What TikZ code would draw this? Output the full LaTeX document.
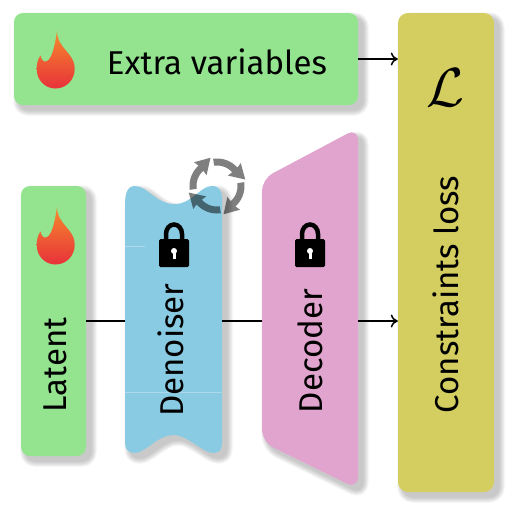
\documentclass[tikz,border=0pt]{standalone}
\usepackage{fontspec}
\setmainfont{Fira Sans}
\usetikzlibrary{arrows.meta}
\definecolor{grn}{HTML}{93E38F}
\definecolor{blu}{HTML}{89CBE2}
\definecolor{pnk}{HTML}{E1A4CE}
\definecolor{ylw}{HTML}{D3CE5F}
\definecolor{flameA}{HTML}{F58A2C}
\definecolor{flameB}{HTML}{E8323A}
\tikzset{
  lbl/.style={font=\fontsize{33}{37}\selectfont,text=black,inner sep=0pt},
  vlbl/.style={lbl,rotate=90},
  link/.style={line width=1.5pt,black},
  arrowlink/.style={link,-{To[length=7pt,width=13pt,line width=1.5pt]}},
  ring/.style={black,opacity=.5},
  seam/.style={white,opacity=.3,line width=.6pt},
}
\newcommand{\softshadow}[1]{%
  \foreach \w in {1,...,12}{\begin{scope}[transparency group,opacity=.02]\filldraw[shift={(5,5)},line width=\w pt,black,line join=round] #1;\end{scope}}}
\newcommand{\flame}[2]{%
  \shade[shift={(#1,#2)},top color=flameA,bottom color=flameB]
   (57,31) .. controls (57,40) and (62,46) .. (68,53)
   .. controls (73,59) and (74.7,63) .. (74.7,69)
   .. controls (74.7,80) and (66,88.5) .. (55.5,88.5)
   .. controls (45,88.5) and (36.7,80) .. (36.7,69)
   .. controls (36.7,63) and (38,59) .. (40.5,55.5)
   .. controls (41,59) and (43,62) .. (46,61.5)
   .. controls (52,60) and (55,45) .. (57,31) -- cycle;}
\newcommand{\padlock}[1]{%
  \begin{scope}[shift={(#1,0)}]
   \draw[line width=4.5pt,black] (-8,241) -- (-8,234) arc[start angle=180,end angle=0,x radius=8,y radius=-9.5] -- (8,241);
   \fill[black,rounded corners=1.5pt] (-15,239) rectangle (15,267);
   \fill[white] (0,251) circle[radius=3];
   \fill[white] (-1.5,251) -- (1.5,251) -- (1.5,259) -- (-1.5,259) -- cycle;
  \end{scope}}
\begin{document}
\begin{tikzpicture}[x=1pt,y=-1pt]
\useasboundingbox (0,0) rectangle (512,512);
% shadows
\softshadow{[rounded corners=9pt] (14,13) rectangle (358,105)}
\softshadow{[rounded corners=9pt] (21,186) rectangle (86,456)}
\softshadow{[rounded corners=10pt] (398,13) rectangle (494,492)}
\softshadow{(125,205) .. controls (125,192) and (128,186) .. (135,186) .. controls (148,186) and (155,204) .. (175,204) .. controls (192,204) and (200,186) .. (212,186) .. controls (219,186) and (222,191) .. (222,198) -- (222,443) .. controls (222,450) and (219,453) .. (213,453) .. controls (203,453) and (188,435) .. (173,435) .. controls (158,435) and (145,453) .. (135,453) .. controls (129,453) and (125,450) .. (125,443) -- cycle}
\softshadow{[rounded corners=12pt] (262,179) -- (358,128) -- (358,489) -- (262,442) -- cycle}
% shapes
\fill[grn,rounded corners=9pt] (14,13) rectangle (358,105);
\fill[grn,rounded corners=9pt] (21,186) rectangle (86,456);
\fill[ylw,rounded corners=10pt] (398,13) rectangle (494,492);
\fill[blu] (125,205) .. controls (125,192) and (128,186) .. (135,186) .. controls (148,186) and (155,204) .. (175,204) .. controls (192,204) and (200,186) .. (212,186) .. controls (219,186) and (222,191) .. (222,198) -- (222,443) .. controls (222,450) and (219,453) .. (213,453) .. controls (203,453) and (188,435) .. (173,435) .. controls (158,435) and (145,453) .. (135,453) .. controls (129,453) and (125,450) .. (125,443) -- cycle;
\fill[pnk,rounded corners=12pt] (262,179) -- (358,128) -- (358,489) -- (262,442) -- cycle;
\draw[seam] (125,246) -- (145,246);
\draw[seam] (125,392) -- (222,392);
% anchors for connectors
\node[inner sep=0pt,minimum width=65pt,minimum height=270pt] (latent) at (53.5,321) {};
\node[inner sep=0pt,minimum width=97pt,minimum height=260pt] (denoiser) at (173.5,321) {};
\node[inner sep=0pt,minimum width=96pt,minimum height=300pt] (decoder) at (310,321) {};
\node[inner sep=0pt,minimum width=344pt,minimum height=92pt] (extra) at (186,59) {};
\node[inner sep=0pt,minimum width=96pt,minimum height=479pt] (constraints) at (446,252.5) {};
\draw[link] (latent) -- (denoiser);
\draw[link] (denoiser) -- (decoder);
\draw[arrowlink] (decoder.east) -- (decoder.east -| constraints.west);
\draw[arrowlink] (extra.east) -- (extra.east -| constraints.west);
% icons
\flame{0}{0}
\flame{0}{176}
\padlock{174}
\padlock{310}
\foreach \a in {0,90,180,270}{
  \fill[ring] plot[domain=-98:-42,samples=14] ({217+27.5*cos(\a+\x)},{186+27.5*sin(\a+\x)})
    -- ({217+33*cos(\a-44)},{186+33*sin(\a-44)})
    -- ({217+29*cos(\a-13)},{186+29*sin(\a-13)})
    -- ({217+15*cos(\a-44)},{186+15*sin(\a-44)})
    -- ({217+20.5*cos(\a-42)},{186+20.5*sin(\a-42)})
    -- plot[domain=-42:-98,samples=14] ({217+20.5*cos(\a+\x)},{186+20.5*sin(\a+\x)}) -- cycle;
}
% text
\node[lbl] (extratext) at (217,62) {Extra variables};
\node[vlbl] (latenttext) at (55,365) {Latent};
\node[vlbl] (denoisertext) at (170.5,350) {Denoiser};
\node[vlbl] (decodertext) at (310,351) {Decoder};
\node[vlbl] (constraintstext) at (446,294.5) {Constraints loss};
\node[inner sep=0pt,scale=5.5] (losssym) at (445.5,88) {$\mathcal{L}$};
\end{tikzpicture}
\end{document}
